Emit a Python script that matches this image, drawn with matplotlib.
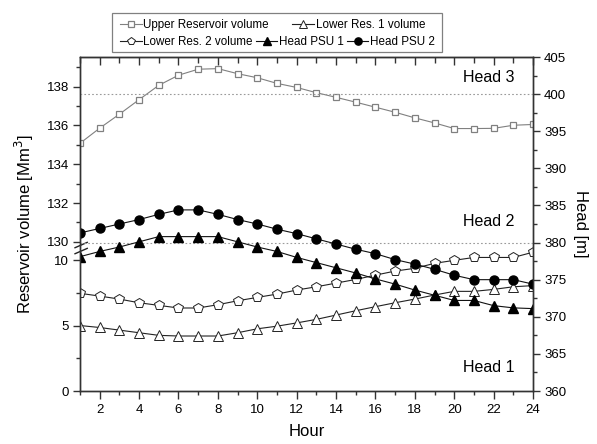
import numpy as np
import matplotlib.pyplot as plt
from matplotlib.patches import Rectangle

plt.rcParams['font.family'] = ['Liberation Sans', 'DejaVu Sans']

hours = np.arange(1, 25)

# left axis (broken): reservoir volumes [Mm3]
upper_res = [135.08, 135.86, 136.58, 137.33, 138.07, 138.59, 138.90, 138.93,
             138.67, 138.46, 138.17, 137.96, 137.69, 137.45, 137.20, 136.94,
             136.68, 136.39, 136.13, 135.84, 135.84, 135.85, 136.01, 136.05]
lower_res1 = [5.0, 4.85, 4.65, 4.45, 4.25, 4.2, 4.2, 4.2, 4.45, 4.75, 4.95, 5.2,
              5.47, 5.8, 6.13, 6.44, 6.74, 7.02, 7.33, 7.61, 7.61, 7.76, 7.96, 8.05]
lower_res2 = [7.46, 7.25, 7.02, 6.74, 6.54, 6.34, 6.34, 6.59, 6.89, 7.15, 7.40, 7.71,
              7.96, 8.24, 8.52, 8.85, 9.16, 9.37, 9.75, 9.98, 10.2, 10.2, 10.2, 10.6]

# right axis: heads [m]
head_psu1 = [378.1, 378.8, 379.4, 380.1, 380.8, 380.8, 380.8, 380.8, 380.1, 379.4,
             378.8, 378.0, 377.3, 376.6, 375.9, 375.1, 374.4, 373.6, 372.9, 372.2,
             372.2, 371.5, 371.2, 371.1]
head_psu2 = [381.3, 381.9, 382.5, 383.1, 383.8, 384.4, 384.4, 383.8, 383.1, 382.5,
             381.8, 381.2, 380.5, 379.8, 379.1, 378.5, 377.7, 377.1, 376.4, 375.6,
             375.0, 375.0, 375.0, 374.4]

head_limits = [400, 380]
head_names = ['Head 3', 'Head 2', 'Head 1']
head_name_y = [402.3, 382.8, 363.2]

left_major = [0, 5, 10, 130, 132, 134, 136, 138]
left_minor = [2.5, 7.5, 131, 133, 135, 137, 139]

# piecewise map for the broken volume axis (0-11 below the break, 130+ above)
_vol = [-100, 0, 11, 130, 140, 1000]
_pix = [-1310, 0, 144.1, 149.3, 343.3, 149.3 + 19.4 * 870]


def fwd(v):
    return np.interp(v, _vol, _pix)


def inv(p):
    return np.interp(p, _pix, _vol)


fig = plt.figure(figsize=(5.97, 4.44), dpi=100)
ax = fig.add_axes([80 / 597, 1 - 391 / 444, 453 / 597, 334 / 444])
ax.set_yscale('function', functions=(fwd, inv))
ax2 = ax.twinx()

grey = '#808080'
ax.plot(hours, upper_res, color=grey, lw=0.8, marker='s', ms=5,
        mfc='white', mec=grey, mew=0.9, label='Upper Reservoir volume')
ax.plot(hours, lower_res1, color='#222222', lw=0.8, marker='^', ms=6.5,
        mfc='white', mec='#222222', mew=0.7, label='Lower Res. 1 volume')
ax.plot(hours, lower_res2, color='#222222', lw=0.8, marker='p', ms=7.5,
        mfc='white', mec='#222222', mew=0.7, label='Lower Res. 2 volume')
ax2.plot(hours, head_psu1, color='#111111', lw=0.8, marker='^', ms=6.5,
         mfc='black', mec='black', label='Head PSU 1')
ax2.plot(hours, head_psu2, color='#111111', lw=0.8, marker='o', ms=6.5,
         mfc='black', mec='black', label='Head PSU 2')

for h in head_limits:
    ax2.axhline(h, color='#9a9a9a', lw=0.8, ls=(0, (1.5, 2)), zorder=0)
for name, y in zip(head_names, head_name_y):
    ax2.text(23.05, y, name, fontsize=11.5, ha='right', va='center')

ax.set_xlim(1, 24)
ax.set_ylim(0, 139.53)
ax2.set_ylim(360, 405)

ax.set_xticks(np.arange(2, 25, 2))
ax.set_xticks(np.arange(1, 25, 1), minor=True)
ax.set_yticks(left_major)
ax.set_yticks(left_minor, minor=True)
ax2.set_yticks(np.arange(360, 406, 5))
ax2.set_yticks(np.arange(362.5, 405, 5), minor=True)

for a in (ax, ax2):
    for s in a.spines.values():
        s.set_color('#333333')
        s.set_linewidth(1.0)
ax.tick_params(axis='both', which='major', length=5, width=1, color='#333333',
               labelsize=9.5, pad=3)
ax.tick_params(axis='both', which='minor', length=3, width=1, color='#333333')
ax.tick_params(axis='x', which='major', length=6)
ax2.tick_params(axis='y', which='major', length=5, width=1, color='#333333',
                labelsize=9.5, pad=3)
ax2.tick_params(axis='y', which='minor', length=3, width=1, color='#333333')

# top axis: inward ticks, no labels
top = ax.secondary_xaxis('top')
top.set_xticks(np.arange(2, 25, 2))
top.set_xticks(np.arange(1, 25, 1), minor=True)
top.tick_params(axis='x', which='both', direction='in', labeltop=False,
                width=1, color='#333333')
top.tick_params(axis='x', which='major', length=6)
top.tick_params(axis='x', which='minor', length=4)
top.spines['top'].set_color('#333333')

ax.set_xlabel('Hour', fontsize=12, labelpad=6)
ax.set_ylabel('Reservoir volume [Mm$^3$]', fontsize=12, labelpad=8)
ax2.set_ylabel('Head [m]', fontsize=12, rotation=270, labelpad=16)

# break marks on the left spine
for yb in (0.419, 0.437):
    ax.plot([-0.011, 0.016], [yb - 0.008, yb + 0.008], transform=ax.transAxes,
            color='#222222', lw=1.0, clip_on=False, zorder=5)

# legend in two rows inside a single frame
h_all = ax.get_lines()[:3] + ax2.get_lines()[:2]
row1 = [h_all[0], h_all[1]]
row2 = [h_all[2], h_all[3], h_all[4]]
kw = dict(frameon=False, fontsize=8.4, handlelength=1.85, handletextpad=0.15,
          borderpad=0, borderaxespad=0, loc='center left', markerscale=0.8)
fig.legend(row1, [l.get_label() for l in row1], ncol=2, columnspacing=2.0,
           bbox_to_anchor=(120 / 597, 1 - 25 / 444), **kw)
fig.legend(row2, [l.get_label() for l in row2], ncol=3, columnspacing=0.25,
           bbox_to_anchor=(120 / 597, 1 - 42 / 444), **kw)
fig.add_artist(Rectangle((112 / 597, 1 - 52 / 444), 330 / 597, 39 / 444,
                         transform=fig.transFigure, fill=False,
                         edgecolor='#808080', lw=0.9))

fig.savefig('out.png', dpi=100)
